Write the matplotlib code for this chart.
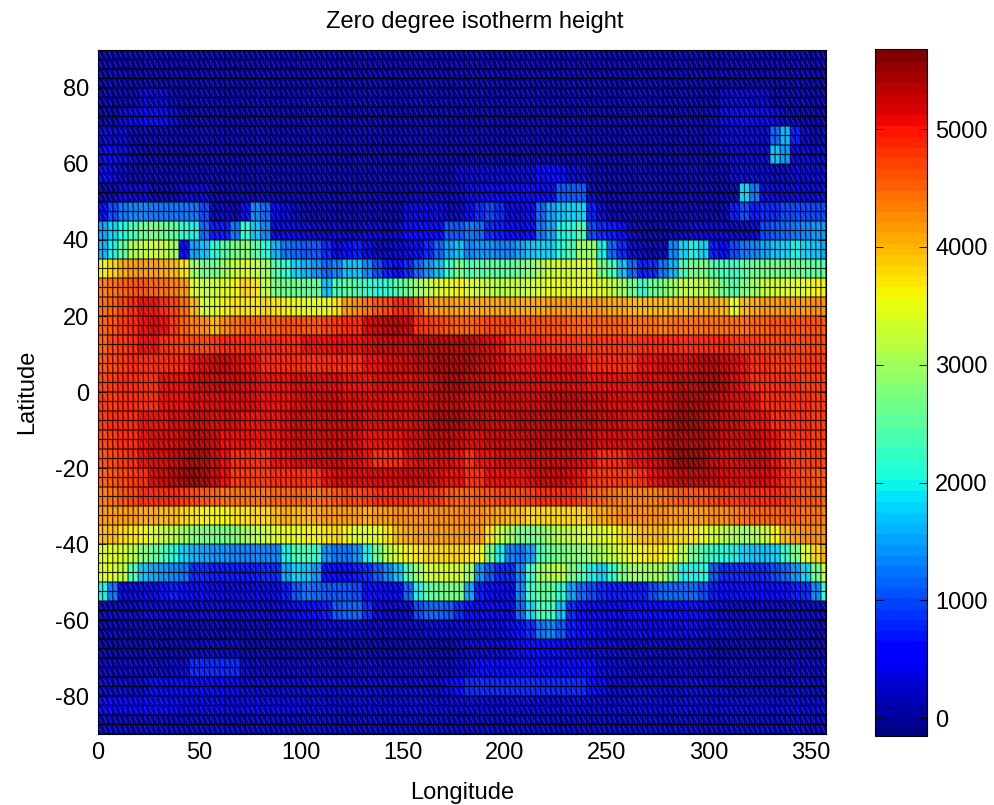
import matplotlib
matplotlib.use("Agg")
import matplotlib.pyplot as plt
import numpy as np
from matplotlib.collections import LineCollection

plt.rcParams['font.family'] = ['Liberation Sans', 'DejaVu Sans']
plt.rcParams['font.size'] = 17
plt.rcParams['axes.unicode_minus'] = False

# height in hundreds of metres
# one row per 5 deg of latitude (north to south), one value per 5 deg of longitude
north_rows = [
    [1]*72,  # 85..90
    [1]*72,  # 80..85
    [1,1,1,1,3,3,3,1,1,1,1,1, 1,1,1,1,1,1,1,1,1,1,1,1, 1,1,1,1,1,1,1,1,1,1,1,1, 1,1,1,1,1,1,1,1,1,1,1,1, 1,1,1,1,1,1,1,1,1,1,1,1, 1,3,3,3,3,3,1,1,1,1,1,1],
    [1,1,3,4,5,5,5,3,1,1,1,1, 1,1,1,1,1,1,1,1,1,1,1,1, 1,1,1,1,1,1,1,1,1,1,1,1, 1,1,1,1,1,1,1,1,1,1,1,1, 1,1,1,1,1,1,1,1,1,1,1,1, 2,4,5,5,5,5,4,2,1,1,1,1],
    [3,3,3,1,1,1,1,1,1,1,1,1, 1,1,1,1,1,1,1,1,1,1,1,1, 1,1,1,1,1,1,1,1,1,1,1,1, 1,1,1,1,1,1,1,1,1,1,1,1, 1,1,1,1,1,1,1,1,1,1,1,1, 2,3,3,3,3,3,12,17,8,2,1,1],
    [5,5,4,2,1,1,1,1,1,1,1,1, 1,1,1,1,1,1,1,1,1,1,1,1, 1,1,1,1,1,1,1,1,1,1,1,1, 1,1,1,1,1,1,1,1,1,1,1,1, 1,1,1,1,1,1,1,1,1,1,1,1, 1,2,3,3,3,3,18,15,3,3,3,3],
    [5,4,2,1,1,1,1,1,1,1,1,1, 1,1,1,1,1,1,1,1,1,1,1,1, 1,1,1,1,1,1,1,1,1,1,1,3, 3,3,3,3,3,3,3,7,7,7,3,3, 1,1,1,1,1,1,1,1,1,1,1,1, 1,1,3,3,3,3,2,2,3,3,3,3],
    [1,1,3,3,3,1,1,1,3,3,3,1, 1,1,1,1,1,1,1,1,1,1,1,1, 1,1,1,1,1,1,1,2,2,2,2,2, 4,4,5,5,5,5,5,5,5,11,11,11, 2,1,1,1,1,1,1,1,1,1,1,1, 1,1,1,19,13,4,3,3,3,3,3,3],
    [7,10,13,14,14,13,13,13,13,13,10,1, 2,1,5,14,12,5,4,2,1,1,1,1, 1,1,1,1,1,1,4,4,4,4,2,2, 5,9,10,9,4,4,5,12,16,18,19,19, 8,3,1,1,1,1,1,1,1,1,1,1, 1,1,8,10,8,9,9,10,10,10,10,10],
    [16,19,21,24,27,28,27,26,22,20,12,8, 8,13,22,18,14,4,4,4,3,2,2,3, 2,2,3,3,2,3,6,6,6,6,11,11, 13,12,9,8,6,5,7,13,16,20,21,24, 10,9,8,7,2,1,1,1,2,2,3,3, 3,3,2,2,3,10,11,12,13,14,15,15],
    [17,20,26,31,33,34,33,30,6,16,18,21, 25,28,29,25,21,17,13,12,11,11,9,4, 6,8,4,2,2,3,4,5,9,12,16,18, 14,15,15,14,14,16,18,19,19,21,24,30, 30,20,12,9,3,2,1,2,14,19,20,19, 8,6,10,13,14,16,18,19,20,19,18,16],
    [37,39,41,42,42,42,41,40,38,30,27,27, 30,33,35,33,30,25,22,19,17,15,12,14, 18,18,14,10,8,7,9,12,15,18,23,28, 24,25,26,26,26,27,29,31,33,34,34,35, 35,28,24,18,12,8,9,13,17,24,27,28, 25,24,23,25,27,28,28,28,27,26,26,25],
    [44,45,46,47,47,46,45,44,42,35,33,34, 35,37,39,38,33,28,27,27,26,26,18,24, 26,24,22,21,22,25,27,30,33,35,36,37, 35,34,33,32,33,33,34,35,36,36,36,36, 36,35,33,30,27,22,27,28,30,33,33,33, 30,27,25,28,30,33,34,35,35,36,37,37],
]
tropic_rows = [
    [45,46,48,50,51,51,50,48,45,40,34,35, 37,38,38,38,39,38,37,36,36,36,36,38, 42,43,45,47,48,50,50,47,43,42,42,41, 41,41,41,41,41,41,41,41,42,42,42,42, 42,42,41,41,40,40,40,40,40,40,41,41, 41,40,36,40,41,42,42,42,42,42,43,43],
    [46,47,49,50,51,52,51,49,46,44,43,40, 43,45,46,46,46,46,47,47,47,47,48,49, 50,50,52,53,54,54,53,50,49,48,47,46, 46,47,48,48,48,47,47,47,47,47,46,46, 46,46,46,46,45,45,45,44,45,45,45,45, 45,45,45,45,46,46,47,47,47,47,47,47],
    [46,48,49,50,51,51,50,49,48,48,48,49, 50,50,50,50,50,50,50,50,51,51,51,51, 51,51,52,53,53,53,53,54,54,54,54,54, 54,53,52,51,50,50,50,50,49,49,49,49, 49,49,49,49,49,50,50,50,50,50,50,50, 50,50,49,49,49,48,48,48,48,48,48,48],
    [47,48,49,50,50,50,50,50,50,51,52,53, 53,52,51,51,50,50,50,50,50,50,50,50, 50,50,51,51,52,52,53,54,54,55,55,55, 55,54,53,52,51,51,51,51,51,51,51,51, 50,50,50,50,50,51,51,52,52,52,53,54, 54,53,52,51,50,50,49,49,49,49,49,49],
    [48,49,50,50,50,50,51,51,51,52,53,53, 53,53,52,52,51,51,51,52,52,52,52,52, 51,51,51,52,52,52,52,53,53,54,55,55, 54,54,53,53,52,52,52,52,52,52,52,52, 51,51,51,51,51,52,52,52,53,54,54,55, 55,54,52,51,50,50,50,50,50,49,49,49],
    [49,49,50,50,50,50,51,51,51,52,52,52, 52,52,52,52,51,51,51,52,53,53,53,53, 52,52,52,52,52,52,52,53,53,54,54,54, 53,53,53,53,53,53,53,53,54,54,54,54, 53,53,52,52,52,52,53,53,54,55,55,55, 54,53,52,52,51,50,50,50,50,50,49,49],
    [49,50,50,50,51,51,51,52,52,53,53,52, 52,52,51,51,51,51,52,53,53,53,53,53, 53,53,52,52,52,52,52,53,54,55,55,55, 54,54,53,53,53,54,54,54,54,54,54,54, 54,53,53,52,52,52,53,54,55,56,56,55, 54,53,53,52,51,51,50,50,50,50,49,49],
    [48,49,50,50,51,52,52,52,53,54,54,53, 51,51,51,51,51,51,52,53,53,53,53,53, 53,52,51,51,51,51,52,53,54,54,54,53, 52,52,53,53,53,53,54,54,54,54,54,54, 53,52,52,52,52,52,53,54,55,55,55,55, 54,53,53,53,53,52,51,50,50,50,49,49],
    [47,48,49,50,51,52,52,53,54,55,55,53, 51,50,50,50,50,51,51,52,52,53,53,53, 52,52,51,50,50,50,51,52,52,52,52,51, 50,51,51,52,52,52,53,53,53,53,53,52, 51,50,50,50,51,51,52,53,55,56,56,55, 53,52,52,53,53,53,51,50,49,49,49,48],
    [46,47,48,49,50,52,53,54,55,56,55,53, 51,49,49,49,49,50,50,50,50,50,51,52, 52,52,52,52,52,52,53,53,53,52,51,51, 50,50,51,51,51,51,52,53,53,53,52,51, 50,49,49,49,49,50,51,52,53,54,54,54, 53,52,52,52,52,52,51,50,49,48,47,47],
    [44,45,47,48,50,50,50,50,49,48,47,46, 45,45,45,45,45,46,46,46,46,45,46,47, 48,48,49,50,50,50,50,50,50,49,47,46, 46,47,47,48,48,48,49,50,50,50,50,49, 47,46,45,44,44,44,44,45,46,47,47,47, 48,49,49,50,50,50,50,49,48,47,47,46],
]
south_rows = [
    [42,42,42,42,41,41,40,40,39,38,37,37, 37,38,38,39,39,40,41,40,40,41,42,42, 42,42,41,42,42,43,43,43,43,43,43,43, 43,43,42,41,40,40,39,39,39,39,39,39, 40,41,42,43,43,43,43,43,42,42,42,42, 43,43,44,45,46,46,46,46,46,45,45,44],
    [40,40,39,38,37,35,33,32,30,29,28,28, 28,29,30,32,34,35,36,36,37,37,38,39, 37,35,35,36,38,40,41,42,42,42,42,42, 42,42,38,33,30,28,27,29,30,32,33,34, 35,35,36,38,39,40,40,40,39,39,38,36, 34,32,31,30,31,33,37,40,42,43,43,43],
    [35,35,34,32,29,26,24,21,19,17,16,15, 15,14,14,14,14,14,20,24,24,22,15,13, 13,15,20,27,32,35,37,38,39,39,39,39, 38,37,28,20,14,13,16,24,27,28,29,29, 30,31,33,35,36,37,38,37,36,32,27,24, 22,21,20,19,18,18,19,22,28,35,39,41],
    [35,35,32,24,18,16,15,14,13,9,9,8, 8,8,8,8,9,9,16,19,18,15,7,6, 7,8,9,11,14,18,24,30,34,34,34,34, 30,15,11,9,9,14,22,30,31,32,28,24, 20,19,22,28,30,30,30,30,27,20,20,21, 11,9,9,9,9,9,10,12,15,19,27,33],
    [20,13,4,4,4,4,6,8,7,5,5,4, 4,4,4,4,4,4,8,11,13,12,11,11, 11,10,7,6,5,6,12,20,25,27,28,28, 16,8,6,5,5,14,22,26,26,22,16,12, 10,9,8,8,8,8,10,12,12,12,12,10, 8,6,6,6,6,6,6,7,8,9,14,22],
    [2,2,2,2,3,3,3,3,3,3,3,3, 3,3,3,3,3,3,4,5,6,7,8,11, 12,12,9,4,3,3,3,10,12,12,11,9, 6,5,5,5,5,12,19,24,24,18,9,7, 5,5,5,5,6,6,6,6,6,6,6,5, 4,3,2,2,2,2,2,2,2,2,2,2],
    [1,1,1,1,1,1,1,1,1,1,1,1, 1,1,1,1,1,2,2,2,2,2,3,3, 3,3,2,2,2,2,2,2,3,3,3,3, 3,3,4,4,5,7,9,13,14,11,8,6, 5,5,4,4,4,4,4,4,4,4,4,3, 3,3,2,2,2,1,1,1,1,1,1,1],
    [1,1,1,1,1,1,1,1,1,2,2,2, 2,2,1,1,1,1,1,1,1,1,1,1, 1,1,1,1,1,1,1,1,1,1,1,2, 3,3,3,3,4,5,6,6,6,5,4,4, 3,3,3,2,2,2,2,2,2,2,2,2, 1,1,1,1,1,1,1,1,1,1,1,1],
    [2,2,2,2,2,2,2,3,3,9,9,9, 9,9,3,2,2,2,2,2,2,2,2,2, 2,2,2,2,2,2,2,2,2,2,2,3, 4,6,6,6,6,6,6,6,6,6,6,6, 6,4,3,3,2,2,2,2,2,2,2,2, 2,2,2,2,2,2,2,2,2,2,2,2],
    [3,3,3,3,3,5,5,5,5,5,5,5, 5,5,3,3,3,3,3,3,3,3,3,3, 3,3,3,3,3,3,3,3,3,3,5,7, 9,9,9,9,9,9,9,9,9,9,9,9, 7,5,3,3,3,3,3,3,3,3,3,3, 3,3,2,2,2,2,2,2,2,2,2,2],
    [5,5,5,5,5,5,5,5,4,4,4,4, 4,4,4,4,4,4,4,4,3,3,3,3, 3,3,3,3,3,3,3,3,3,3,3,3, 3,3,3,3,3,3,3,3,3,3,3,3, 3,3,3,3,3,3,3,3,3,3,3,3, 3,3,3,3,3,3,3,3,3,3,3,3],
    [2,2,2,2,2,2,2,2,2,2,2,2, 2,2,2,2,2,2,2,2,2,2,2,2, 2,2,2,2,2,2,2,2,2,2,2,2, 2,2,2,2,2,2,2,2,2,2,2,2, 2,2,2,2,2,2,2,2,2,2,2,2, 2,2,2,2,2,2,2,2,2,2,2,2],
]
lon_ticks = [0, 50, 100, 150, 200, 250, 300, 350]
lat_ticks = [-80, -60, -40, -20, 0, 20, 40, 60, 80]
cbar_ticks = [0, 1000, 2000, 3000, 4000, 5000]

# table values were rounded up, take half a step off
height = np.array(north_rows + tropic_rows + south_rows) * 100.0 - 50
# each table value covers two of the 2.5 deg mesh cells each way
height = np.repeat(np.repeat(height[::-1], 2, axis=0), 2, axis=1)[:, :143]
lon_edges = np.arange(144) * 2.5
lat_edges = np.linspace(-90, 90, 73)

fig = plt.figure(figsize=(9.94, 8.05), dpi=100)
ax = fig.add_axes([97.5 / 994, 1 - 734 / 805, (826 - 97.5) / 994, 684 / 805])
cax = fig.add_axes([875 / 994, 1 - 736 / 805, 52 / 994, 687 / 805])

cmap = plt.get_cmap('jet', 64)
mesh = ax.pcolormesh(lon_edges, lat_edges, height, cmap=cmap, vmin=-150, vmax=5680)

# the light diagonal seam inside every cell
segs = [[(x0, y1), (x1, y0)]
        for x0, x1 in zip(lon_edges[:-1], lon_edges[1:])
        for y0, y1 in zip(lat_edges[:-1], lat_edges[1:])]
ax.add_collection(LineCollection(segs, colors='white', linewidths=0.5, alpha=0.22))

vl = ax.vlines(lon_edges, -90, 90, colors='black', linewidth=0.8, alpha=0.85)
hl = ax.hlines(lat_edges, 0, 357.5, colors='black', linewidth=0.8, alpha=0.85)
vl.set_snap(False)
hl.set_snap(False)

ax.set_xlim(0, 357.5)
ax.set_ylim(-90, 90)
ax.set_xticks(lon_ticks)
ax.set_yticks(lat_ticks)
ax.tick_params(direction='in', length=6, width=0.6, top=True, right=True, pad=6)
ax.set_xlabel("Longitude", labelpad=13)
ax.set_ylabel("Latitude", labelpad=12)
ax.set_title("Zero degree isotherm height", fontsize=17, x=0.518, pad=16)

cbar = fig.colorbar(mesh, cax=cax)
cbar.solids.set_edgecolor('face')
cbar.set_ticks(cbar_ticks)
cbar.ax.tick_params(direction='in', length=6, width=0.6, left=True, right=True, pad=6)

fig.savefig("out.png", dpi=100)
